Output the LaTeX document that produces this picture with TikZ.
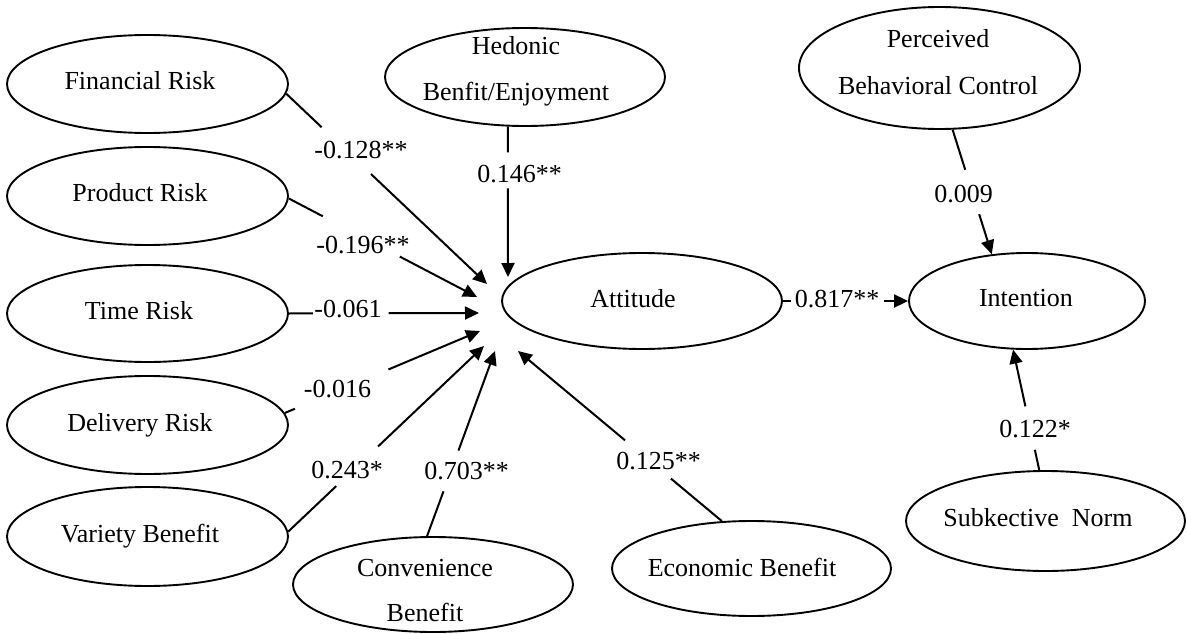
\documentclass[tikz,border=0pt]{standalone}
\usepackage{fontspec}
\setmainfont{Liberation Serif}
\usetikzlibrary{shapes.geometric,arrows.meta,calc}
\newcommand\gapconn[4]{%
  \draw[conn] (#1) -- ($(#1)!#2!(#4)$);
  \draw[conn,arr] ($(#1)!#3!(#4)$) -- (#4);}
\begin{document}
\begin{tikzpicture}[x=1pt,y=-1pt,
  every node/.style={font=\fontsize{26}{31}\selectfont},
  latent/.style={ellipse,draw,line width=1.9pt,inner sep=0pt,minimum width=281pt,minimum height=98pt},
  etxt/.style={anchor=base},
  coef/.style={anchor=base,inner sep=0pt},
  conn/.style={line width=2pt},
  arr/.style={-{Triangle[length=14pt,width=13pt]}}]
\useasboundingbox (0,0) rectangle (1187,634);
% latent variables
\node[latent] (fin) at (147.5,84) {};
\node[latent] (prod) at (147.5,196) {};
\node[latent,minimum height=97pt] (time) at (147.5,313.5) {};
\node[latent] (del) at (147.5,425) {};
\node[latent,minimum height=99pt] (var) at (147.5,536.5) {};
\node[latent,minimum width=280pt,minimum height=95pt] (conv) at (433,584.5) {};
\node[latent,minimum width=280pt] (hed) at (525,77) {};
\node[latent,minimum width=280pt,minimum height=96pt] (att) at (642,301) {};
\node[latent,minimum width=236pt,minimum height=96pt] (int) at (1027,301) {};
\node[latent,minimum height=122pt] (pbc) at (939.5,68) {};
\node[latent,minimum width=279pt,minimum height=100pt] (sn) at (1045.5,521) {};
\node[latent,minimum width=279pt,minimum height=95pt] (eco) at (751.5,568.5) {};
% texts inside
\path (fin.center) node[etxt,xshift=-7.5pt,yshift=-5pt] (finT) {Financial Risk};
\path (prod.center) node[etxt,xshift=-7.5pt,yshift=-5pt] (prodT) {Product Risk};
\path (time.center) node[etxt,xshift=-8.5pt,yshift=-5.5pt] (timeT) {Time Risk};
\path (del.center) node[etxt,xshift=-7.5pt,yshift=-6pt] (delT) {Delivery Risk};
\path (var.center) node[etxt,xshift=-7.5pt,yshift=-5.5pt] (varT) {Variety Benefit};
\path (conv.center) node[etxt,xshift=-8pt,yshift=8.5pt] (convT1) {Convenience};
\path (conv.center) node[etxt,xshift=-8pt,yshift=-36.5pt] (convT2) {Benefit};
\path (hed.center) node[etxt,xshift=-9pt,yshift=22pt] (hedT1) {Hedonic};
\path (hed.center) node[etxt,xshift=-9pt,yshift=-23pt] (hedT2) {Benfit/Enjoyment};
\path (att.center) node[etxt,xshift=-9pt,yshift=-6pt] (attT) {Attitude};
\path (int.center) node[etxt,xshift=-1pt,yshift=-5pt] (intT) {Intention};
\path (pbc.center) node[etxt,xshift=-1.5pt,yshift=20pt] (pbcT1) {Perceived};
\path (pbc.center) node[etxt,xshift=-1.5pt,yshift=-27pt] (pbcT2) {Behavioral Control};
\path (sn.center) node[etxt,xshift=-7.5pt,yshift=-5pt] (snT) {Subkective\ \ Norm};
\path (eco.center) node[etxt,xshift=-9.5pt,yshift=-7.5pt] (ecoT) {Economic Benefit};
% arrow tips near Attitude
\coordinate (tFin) at (487,284);
\coordinate (tProd) at (477,297);
\coordinate (tTime) at (479,313);
\coordinate (tDel) at (480,331);
\coordinate (tVar) at (484,346);
\coordinate (tConv) at (495,351);
\coordinate (tEco) at (518,351);
\coordinate (tHed) at (508,277);
% connectors
\gapconn{fin.356}{0.176}{0.422}{tFin}
\gapconn{prod.359}{0.181}{0.590}{tProd}
\gapconn{time.east}{0.126}{0.524}{tTime}
\gapconn{del.5}{0.052}{0.531}{tDel}
\gapconn{var.2}{0.245}{0.459}{tVar}
\gapconn{conv.97}{0.242}{0.462}{tConv}
\gapconn{eco.122}{0.250}{0.475}{tEco}
\gapconn{hed.251}{0.172}{0.411}{tHed}
\gapconn{att.east}{0.063}{0.811}{int.west}
\gapconn{pbc.282}{0.322}{0.678}{int.127}
\gapconn{sn.97}{0.168}{0.529}{int.254}
% coefficients
\node[coef] (lFin) at (361,158) {-0.128**};
\node[coef] (lProd) at (363,253) {-0.196**};
\node[coef] (lTime) at (348,317) {-0.061};
\node[coef] (lDel) at (337.5,397) {-0.016};
\node[coef] (lVar) at (347,478) {0.243*};
\node[coef] (lConv) at (466.5,479) {0.703**};
\node[coef] (lEco) at (658.5,469) {0.125**};
\node[coef] (lHed) at (519.5,182) {0.146**};
\node[coef] (lAI) at (837,307) {0.817**};
\node[coef] (lPBC) at (963.5,202) {0.009};
\node[coef] (lSN) at (1035,437) {0.122*};
\end{tikzpicture}
\end{document}
